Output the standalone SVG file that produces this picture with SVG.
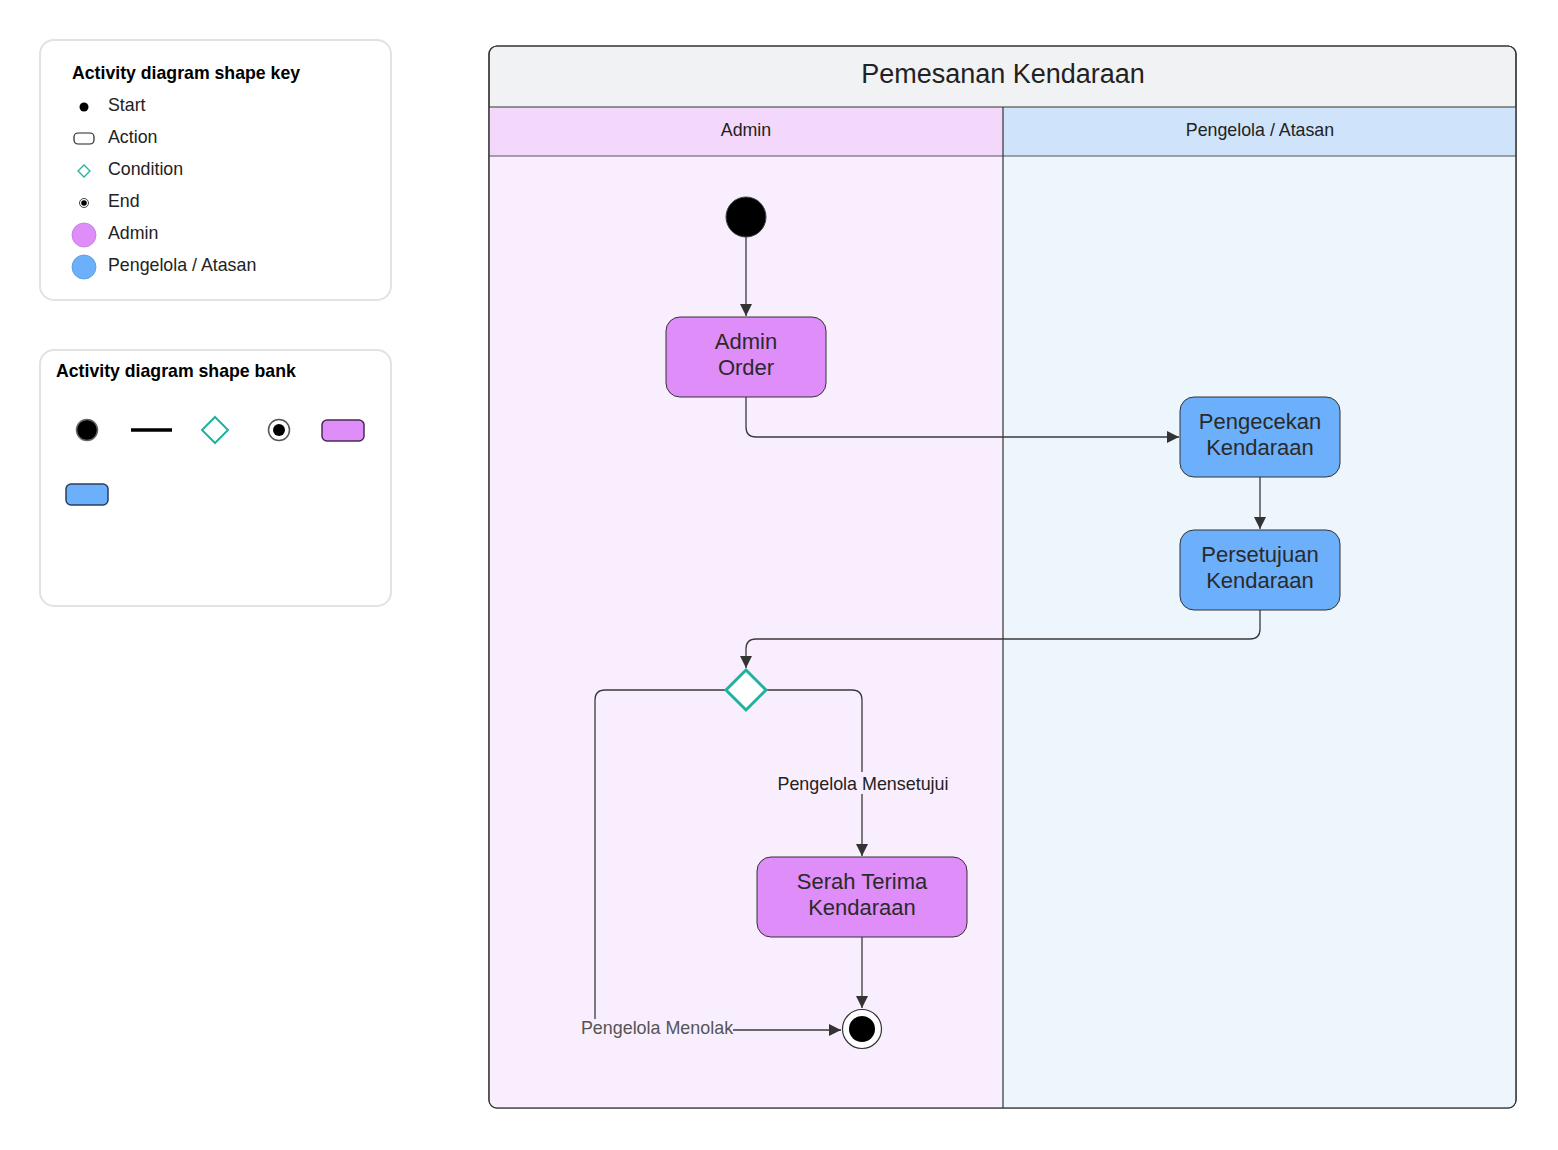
<svg xmlns="http://www.w3.org/2000/svg" width="1558" height="1150" viewBox="0 0 1558 1150">
<style>
text{font-family:"Liberation Sans",Arial,sans-serif;fill:#222}
.leg{font-size:17.8px}
.legt{font-size:17.7px;font-weight:bold;fill:#000}
.card{fill:#fff;stroke:#e2e2e2;stroke-width:2}
.act{stroke:#333;stroke-width:1}
.pink{fill:#df8df8}
.blue{fill:#6caffa}
.atext{font-size:22px;text-anchor:middle;fill:#2a2a2a}
.conn{fill:none;stroke:#3a3a3a;stroke-width:1.3}
.lbl{font-size:17.9px;text-anchor:middle}
</style>
<defs>
<marker id="arr" viewBox="0 0 10 10" refX="10" refY="5" markerWidth="12" markerHeight="12" markerUnits="userSpaceOnUse" orient="auto">
<path d="M0,0 L10,5 L0,10 z" fill="#333"/>
</marker>
</defs>
<rect width="1558" height="1150" fill="#fff"/>

<g id="legend-key">
<rect class="card" x="40" y="40" width="351" height="260" rx="14"/>
<text class="legt" x="72" y="79">Activity diagram shape key</text>
<circle cx="84" cy="107" r="4.5" fill="#000"/>
<text class="leg" x="108" y="111">Start</text>
<rect x="74" y="133" width="20" height="11" rx="4" fill="#fff" stroke="#222" stroke-width="1.2"/>
<text class="leg" x="108" y="143">Action</text>
<path d="M84,165 L90,171 L84,177 L78,171 z" fill="#fff" stroke="#20b29e" stroke-width="1.3"/>
<text class="leg" x="108" y="175">Condition</text>
<circle cx="84" cy="203" r="4.5" fill="#fff" stroke="#444" stroke-width="1"/>
<circle cx="84" cy="203" r="2.8" fill="#000"/>
<text class="leg" x="108" y="207">End</text>
<circle cx="84" cy="235" r="12" fill="#df8df8" stroke="#c07ad8" stroke-width="0.8"/>
<text class="leg" x="108" y="239">Admin</text>
<circle cx="84" cy="267" r="12" fill="#6caffa" stroke="#5a95d8" stroke-width="0.8"/>
<text class="leg" x="108" y="271">Pengelola / Atasan</text>
</g>

<g id="legend-bank">
<rect class="card" x="40" y="350" width="351" height="256" rx="14"/>
<text class="legt" x="56" y="377">Activity diagram shape bank</text>
<circle cx="87" cy="430" r="10.5" fill="#000" stroke="#666" stroke-width="1.5"/>
<line x1="131" y1="430" x2="172" y2="430" stroke="#000" stroke-width="3.5"/>
<path d="M215,417 L228,430 L215,443 L202,430 z" fill="#fff" stroke="#20b29e" stroke-width="2"/>
<circle cx="279" cy="430" r="10.5" fill="#fff" stroke="#555" stroke-width="1.5"/>
<circle cx="279" cy="430" r="6" fill="#000"/>
<rect x="322" y="420" width="42" height="21" rx="5" fill="#df8df8" stroke="#4a2a55" stroke-width="1.5"/>
<rect x="66" y="484" width="42" height="21" rx="5" fill="#6caffa" stroke="#2a3f5f" stroke-width="1.5"/>
</g>

<g id="pool">
<rect x="489" y="46" width="1027" height="1062" rx="8" fill="#f1f2f4" stroke="#333" stroke-width="1.2"/>
<rect x="489.6" y="107" width="513.4" height="49" fill="#f3d8fc"/>
<rect x="1003" y="107" width="512.4" height="49" fill="#cfe4fb"/>
<path d="M489.6,156 H1003 V1107.4 H497 Q489.6,1107.4 489.6,1100 z" fill="#f9eefd"/>
<path d="M1003,156 H1515.4 V1100 Q1515.4,1107.4 1508,1107.4 H1003 z" fill="#edf5fd"/>
<line x1="489" y1="107" x2="1516" y2="107" stroke="#333" stroke-width="1.2"/>
<line x1="489" y1="156" x2="1516" y2="156" stroke="#555" stroke-width="1"/>
<line x1="1003" y1="107" x2="1003" y2="1108" stroke="#333" stroke-width="1.2"/>
<rect x="489" y="46" width="1027" height="1062" rx="8" fill="none" stroke="#333" stroke-width="1.2"/>
<text x="1003" y="83" font-size="27" text-anchor="middle" fill="#111">Pemesanan Kendaraan</text>
<text x="746" y="136" font-size="17.8" text-anchor="middle" fill="#111">Admin</text>
<text x="1260" y="136" font-size="17.8" text-anchor="middle" fill="#111">Pengelola / Atasan</text>
</g>

<g id="connectors">
<line class="conn" x1="746" y1="237" x2="746" y2="316" marker-end="url(#arr)"/>
<path class="conn" d="M746,397 V427 Q746,437 756,437 H1179" marker-end="url(#arr)"/>
<line class="conn" x1="1260" y1="477" x2="1260" y2="529" marker-end="url(#arr)"/>
<path class="conn" d="M1260,610 V629 Q1260,639 1250,639 H756 Q746,639 746,649 V668" marker-end="url(#arr)"/>
<path class="conn" d="M767,690 H852 Q862,690 862,700 V856" marker-end="url(#arr)"/>
<line class="conn" x1="862" y1="937" x2="862" y2="1008" marker-end="url(#arr)"/>
<path class="conn" d="M725,690 H605 Q595,690 595,700 V1019"/>
<line class="conn" x1="733" y1="1030" x2="841" y2="1030" marker-end="url(#arr)"/>
<rect x="777" y="772" width="172" height="22" fill="#f9eefd"/>
<text class="lbl" x="863" y="790" fill="#111">Pengelola Mensetujui</text>
<text class="lbl" x="657" y="1034" style="fill:#555">Pengelola Menolak</text>
</g>

<g id="start">
<circle cx="746" cy="217" r="20" fill="#000" stroke="#444" stroke-width="1"/>
</g>
<g id="admin-order">
<rect class="act pink" x="666" y="317" width="160" height="80" rx="14"/>
<text class="atext" x="746" y="349">Admin</text>
<text class="atext" x="746" y="375">Order</text>
</g>
<g id="pengecekan">
<rect class="act blue" x="1180" y="397" width="160" height="80" rx="14"/>
<text class="atext" x="1260" y="429">Pengecekan</text>
<text class="atext" x="1260" y="455">Kendaraan</text>
</g>
<g id="persetujuan">
<rect class="act blue" x="1180" y="530" width="160" height="80" rx="14"/>
<text class="atext" x="1260" y="562">Persetujuan</text>
<text class="atext" x="1260" y="588">Kendaraan</text>
</g>
<g id="decision">
<path d="M746,670 L766,690 L746,710 L726,690 z" fill="#fff" stroke="#20b29e" stroke-width="3"/>
</g>
<g id="serah-terima">
<rect class="act pink" x="757" y="857" width="210" height="80" rx="14"/>
<text class="atext" x="862" y="889">Serah Terima</text>
<text class="atext" x="862" y="915">Kendaraan</text>
</g>
<g id="end">
<circle cx="862" cy="1029" r="19.5" fill="#fff" stroke="#333" stroke-width="1.2"/>
<circle cx="862" cy="1029" r="13" fill="#000"/>
</g>
</svg>
